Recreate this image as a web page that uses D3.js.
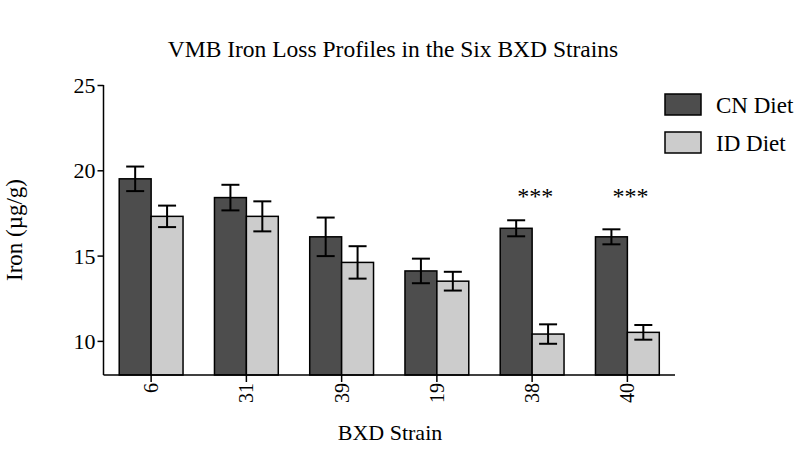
<!DOCTYPE html>
<html><head><meta charset="utf-8">
<script src="https://cdn.jsdelivr.net/npm/d3@7"></script>
<style>body{margin:0;background:#fff}svg{display:block}text{font-family:"Liberation Serif","Times New Roman",serif;fill:#000}</style>
</head><body><svg id="c" width="800" height="472"></svg>
<script>
const strains = ["6","31","39","19","38","40"];
const seriesNames = ["CN Diet","ID Diet"];
const cnValues = [19.5,18.4,16.1,14.1,16.6,16.1];
const cnErrors = [0.72,0.75,1.13,0.72,0.47,0.44];
const idValues = [17.3,17.3,14.6,13.5,10.4,10.5];
const idErrors = [0.63,0.88,0.95,0.55,0.57,0.43];
const significance = ["","","","","***","***"];
const yTicks = [10,15,20,25];
const colors = ["#4d4d4d","#cccccc"];

const svg = d3.select("#c");
const m = {left:103.5, right:675, top:85, bottom:375};
const x = d3.scaleBand().domain(strains).range([m.left,m.right]).paddingInner(0.33).paddingOuter(0.165);
const xs = d3.scaleBand().domain(seriesNames).range([0,x.bandwidth()]);
const y = d3.scaleLinear().domain([8,25]).range([m.bottom,m.top]);

const data = strains.map((s,i)=>({s, vals:[{k:seriesNames[0],v:cnValues[i],e:cnErrors[i]},{k:seriesNames[1],v:idValues[i],e:idErrors[i]}]}));

const g = svg.append("g").selectAll("g").data(data).join("g").attr("transform",d=>`translate(${x(d.s)},0)`);
g.selectAll("rect").data(d=>d.vals).join("rect")
  .attr("x",d=>xs(d.k)).attr("width",xs.bandwidth())
  .attr("y",d=>y(d.v)).attr("height",d=>y(8)-y(d.v))
  .attr("fill",(d,i)=>colors[i]).attr("stroke","#000").attr("stroke-width",1.5);
const eb = g.selectAll("g.eb").data(d=>d.vals).join("g").attr("class","eb")
  .attr("stroke","#000").attr("stroke-width",2);
eb.append("line").attr("x1",d=>xs(d.k)+xs.bandwidth()/2).attr("x2",d=>xs(d.k)+xs.bandwidth()/2)
  .attr("y1",d=>y(d.v+d.e)).attr("y2",d=>y(d.v-d.e));
eb.append("line").attr("x1",d=>xs(d.k)+xs.bandwidth()/2-9).attr("x2",d=>xs(d.k)+xs.bandwidth()/2+9)
  .attr("y1",d=>y(d.v+d.e)).attr("y2",d=>y(d.v+d.e));
eb.append("line").attr("x1",d=>xs(d.k)+xs.bandwidth()/2-9).attr("x2",d=>xs(d.k)+xs.bandwidth()/2+9)
  .attr("y1",d=>y(d.v-d.e)).attr("y2",d=>y(d.v-d.e));

// significance
svg.append("g").selectAll("text").data(strains.map((s,i)=>({s,t:significance[i]})).filter(d=>d.t))
  .join("text").attr("x",d=>x(d.s)+x.bandwidth()/2+3).attr("y",204)
  .attr("text-anchor","middle").attr("font-size",24).attr("fill","#333").text(d=>d.t);

// axes
const ya = svg.append("g").attr("transform",`translate(${m.left},0)`)
  .call(d3.axisLeft(y).tickValues(yTicks).tickSize(6).tickPadding(2).tickSizeOuter(0));
ya.select(".domain").attr("d",`M0,${y(25)}V${m.bottom}`);
const xa = svg.append("g").attr("transform",`translate(0,${m.bottom})`)
  .call(d3.axisBottom(x).tickSize(7).tickSizeOuter(0));
xa.select(".domain").attr("d",`M${m.left},0H${m.right}`);
svg.selectAll(".domain, .tick line").attr("stroke","#000").attr("stroke-width",1.5);
ya.selectAll("text").attr("font-size",22).attr("font-family","Liberation Serif").attr("dy","0.35em");
xa.selectAll("text").attr("font-size",20).attr("font-family","Liberation Serif")
  .attr("transform","rotate(-90)").attr("text-anchor","end").attr("x",-8).attr("y",0).attr("dy","0.35em");

// titles
svg.append("text").attr("x",393).attr("y",57).attr("text-anchor","middle").attr("font-size",23.5).text("VMB Iron Loss Profiles in the Six BXD Strains");
svg.append("text").attr("x",390).attr("y",440).attr("text-anchor","middle").attr("font-size",22).text("BXD Strain");
svg.append("text").attr("transform","translate(22,230) rotate(-90)").attr("text-anchor","middle").attr("font-size",23).text("Iron (µg/g)");

// legend
const lg = svg.append("g").selectAll("g").data(seriesNames).join("g").attr("transform",(d,i)=>`translate(665,${94+i*38})`);
lg.append("rect").attr("width",36).attr("height",21).attr("fill",(d,i)=>colors[i]).attr("stroke","#000").attr("stroke-width",1.5);
lg.append("text").attr("x",51).attr("y",11).attr("dy","0.35em").attr("font-size",23).text(d=>d);
</script></body></html>
